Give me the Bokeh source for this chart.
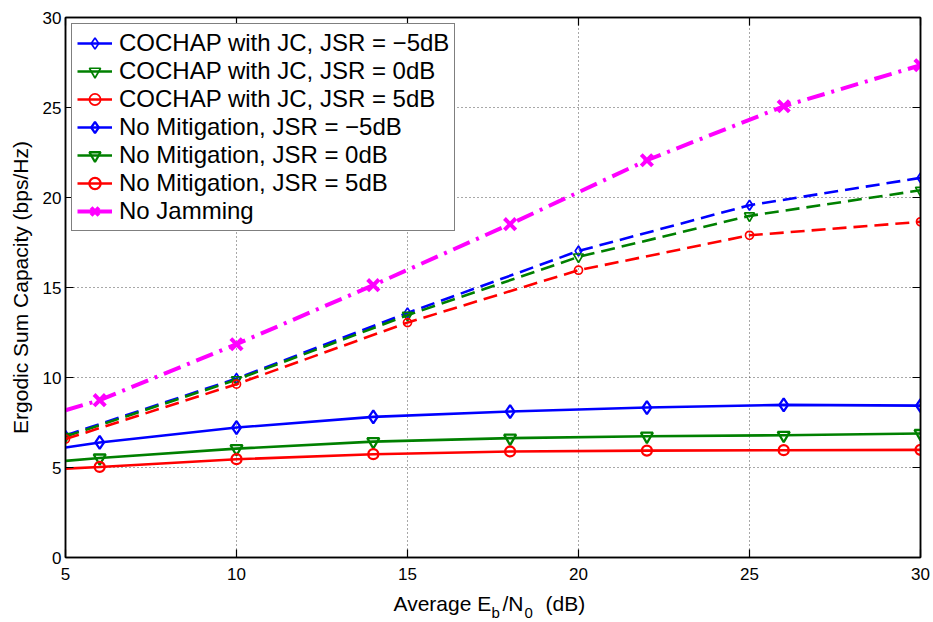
import math
from bokeh.plotting import figure
from bokeh.layouts import column
from bokeh.models import Range1d, LinearAxis, Legend, LegendItem, FixedTicker
from bokeh.core.properties import value
from bokeh.embed import file_html
from bokeh.resources import INLINE

# ---------------- data ----------------
x_cochap = [5, 10, 15, 20, 25, 30]
cochap_m5 = [6.78, 9.94, 13.59, 17.03, 19.57, 21.09]
cochap_0 = [6.72, 9.88, 13.46, 16.70, 18.98, 20.40]
cochap_5 = [6.58, 9.63, 13.05, 15.96, 17.90, 18.65]

x_nomit = [5, 6, 10, 14, 18, 22, 26, 30]
nomit_m5 = [6.11, 6.39, 7.22, 7.81, 8.11, 8.33, 8.48, 8.44]
nomit_0 = [5.37, 5.53, 6.05, 6.44, 6.63, 6.74, 6.79, 6.89]
nomit_5 = [4.94, 5.03, 5.46, 5.74, 5.89, 5.94, 5.96, 5.98]

x_nojam = [5, 6, 10, 14, 18, 22, 26, 30]
nojam = [8.18, 8.74, 11.85, 15.13, 18.52, 22.07, 25.07, 27.35]

x_ticks = [5, 10, 15, 20, 25, 30]
y_ticks = [0, 5, 10, 15, 20, 25, 30]

labels = [
    "COCHAP with JC, JSR = \u22125dB",
    "COCHAP with JC, JSR = 0dB",
    "COCHAP with JC, JSR = 5dB",
    "No Mitigation, JSR = \u22125dB",
    "No Mitigation, JSR = 0dB",
    "No Mitigation, JSR = 5dB",
    "No Jamming",
]

# x-axis label pieces: (text, is_subscript)
xlabel_pieces = [("Average E", False), ("b", True), ("/N", False), ("0", True), ("(dB)", False)]

FONT = "Liberation Sans"
BLUE, GREEN, RED, MAG = "#0000FF", "#008000", "#FF0000", "#FF00FF"

p = figure(width=933, height=587, output_backend="svg", toolbar_location=None,
           x_range=Range1d(5, 30), y_range=Range1d(0, 30),
           min_border_left=65, min_border_right=13, min_border_top=17, min_border_bottom=30,
           background_fill_color="white", border_fill_color="white")
p.outline_line_color = "black"
p.outline_line_width = 1.5


def style_axis(ax, ticks, show):
    ax.ticker = FixedTicker(ticks=ticks)
    ax.major_tick_in = 8
    ax.major_tick_out = 0
    ax.minor_tick_line_color = None
    ax.axis_line_color = "black"
    ax.axis_line_width = 1.5
    ax.major_tick_line_color = "black"
    ax.major_tick_line_width = 1.2
    ax.major_label_text_font = FONT
    ax.major_label_text_color = "black"
    if show:
        ax.major_label_text_font_size = "17px"
    else:
        ax.major_label_text_font_size = "1px"
        ax.major_label_standoff = 0
        ax.major_label_overrides = {t: "" for t in ticks}


xb = p.below[0]
yl = p.left[0]
style_axis(xb, x_ticks, True)
xb.major_label_standoff = 10
style_axis(yl, y_ticks, True)
yl.major_label_standoff = 4
yl.axis_label = "Ergodic Sum Capacity (bps/Hz)"
yl.axis_label_text_font = FONT
yl.axis_label_text_font_size = "21px"
yl.axis_label_text_font_style = "normal"
yl.axis_label_text_color = "black"
yl.axis_label_standoff = 8

ax_top = LinearAxis()
style_axis(ax_top, x_ticks, False)
p.add_layout(ax_top, "above")
ax_right = LinearAxis()
style_axis(ax_right, y_ticks, False)
p.add_layout(ax_right, "right")

for g in (p.xgrid[0], p.ygrid[0]):
    g.grid_line_color = "#505050"
    g.grid_line_dash = "1 3"
    g.grid_line_width = 1
p.xgrid[0].ticker = FixedTicker(ticks=x_ticks)
p.ygrid[0].ticker = FixedTicker(ticks=y_ticks)

# ---------------- series ----------------
cochap = [(cochap_m5, BLUE, "diamond", 10), (cochap_0, GREEN, "inverted_triangle", 10),
          (cochap_5, RED, "circle", 8)]
nomit = [(nomit_m5, BLUE, "diamond", 13), (nomit_0, GREEN, "inverted_triangle", 12),
         (nomit_5, RED, "circle", 10)]

for ys, col, mk, sz in cochap:
    p.line(x_cochap, ys, line_color=col, line_width=2.6, line_dash="14 7")
    p.scatter(x_cochap, ys, marker=mk, size=sz, line_color=col, line_width=1.7, fill_alpha=0)
for ys, col, mk, sz in nomit:
    p.line(x_nomit, ys, line_color=col, line_width=2.6)
    p.scatter(x_nomit[1:], ys[1:], marker=mk, size=sz, line_color=col, line_width=2.3, fill_alpha=0)
p.line(x_nojam, nojam, line_color=MAG, line_width=4, line_dash="18 7 3 7")
p.scatter(x_nojam[1:], nojam[1:], marker="x", size=16, line_color=MAG, line_width=4)

# legend proxies (solid lines with markers, as in the reference legend)
styles = [(BLUE, "diamond", 10, 1.7, 2.6), (GREEN, "inverted_triangle", 10, 1.7, 2.6),
          (RED, "circle", 8, 1.7, 2.6), (BLUE, "diamond", 13, 2.3, 2.6),
          (GREEN, "inverted_triangle", 12, 2.3, 2.6), (RED, "circle", 10, 2.3, 2.6),
          (MAG, "x", 16, 4, 4)]
nan = [math.nan]
items = []
for lab, (col, mk, sz, mlw, llw) in zip(labels, styles):
    lr = p.line(nan, nan, line_color=col, line_width=llw)
    mr = p.scatter(nan, nan, marker=mk, size=sz, line_color=col, line_width=mlw, fill_alpha=0)
    items.append(LegendItem(label=lab, renderers=[lr, mr]))

legend = Legend(items=items, location="top_left", margin=6, padding=5, spacing=0,
                glyph_width=35, glyph_height=28, label_height=28, label_standoff=7,
                label_text_font=FONT, label_text_font_size="24px", label_text_color="black",
                border_line_color="black", border_line_width=1.2,
                background_fill_color="white", background_fill_alpha=1)
p.add_layout(legend)

# ---------------- x axis label strip (with subscripts) ----------------
# the strip's frame is aligned with the main frame (855 px wide), so x is in px from frame left
q = figure(width=933, height=35, output_backend="svg", toolbar_location=None,
           x_range=Range1d(0, 855), y_range=Range1d(0, 35),
           x_axis_location=None, y_axis_location=None,
           min_border_left=65, min_border_right=13, min_border_top=0, min_border_bottom=0,
           background_fill_color="white", border_fill_color="white")
q.grid.visible = False
q.outline_line_color = None

xpos = [328, 426, 437, 459, 480]
main_x = [xp for xp, (t, s) in zip(xpos, xlabel_pieces) if not s]
main_t = [t for t, s in xlabel_pieces if not s]
sub_x = [xp for xp, (t, s) in zip(xpos, xlabel_pieces) if s]
sub_t = [t for t, s in xlabel_pieces if s]
q.text(x=main_x, y=[19] * len(main_x), text=main_t, text_font=value(FONT),
       text_font_size="21px", text_color="black", text_baseline="alphabetic", text_align="left")
q.text(x=sub_x, y=[10] * len(sub_x), text=sub_t, text_font=value(FONT),
       text_font_size="15px", text_color="black", text_baseline="alphabetic", text_align="left")

layout = column(p, q, spacing=0)
open("out.html", "w").write(file_html(layout, INLINE))
